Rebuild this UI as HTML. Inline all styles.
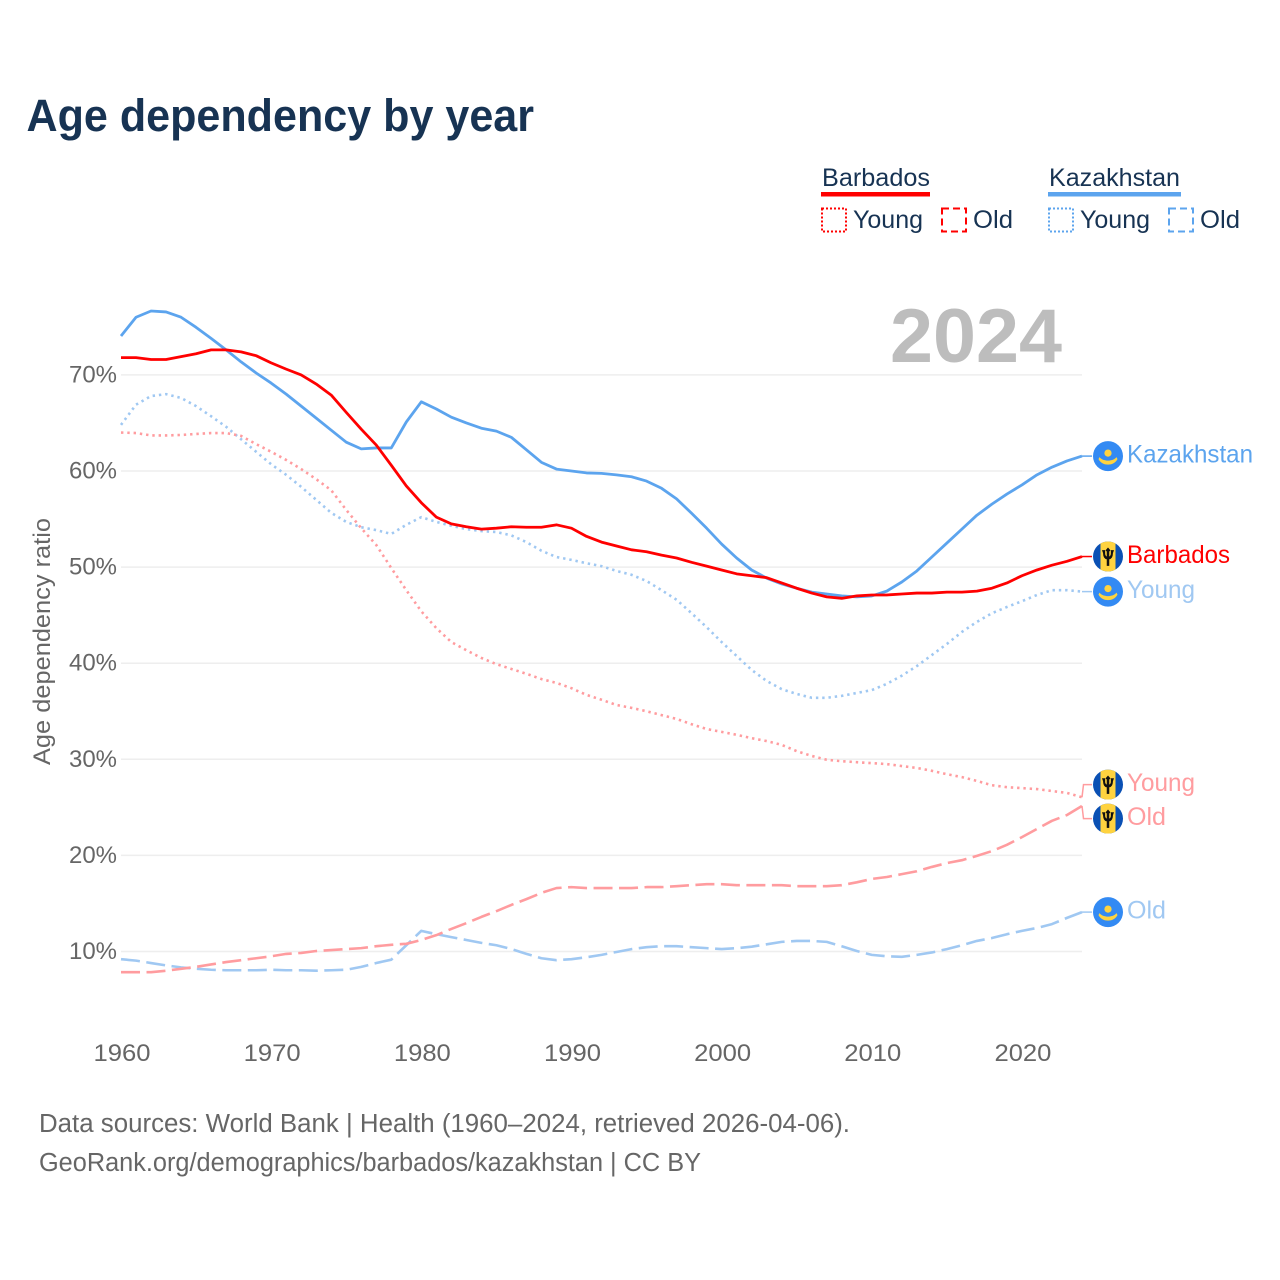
<!DOCTYPE html>
<html lang="en">
<head>
<meta charset="utf-8">
<title>Age dependency by year</title>
<style>
html,body{margin:0;padding:0;background:#fff;width:1280px;height:1280px;overflow:hidden}
svg{display:block}
text{font-family:"Liberation Sans",sans-serif}
</style>
</head>
<body>
<svg id="chart" width="1280" height="1280" viewBox="0 0 1280 1280" xmlns="http://www.w3.org/2000/svg">
  <defs>
    <clipPath id="flag-clip"><circle cx="0" cy="0" r="15"/></clipPath>
    <g id="flag-bb">
      <g clip-path="url(#flag-clip)">
        <rect x="-15" y="-15" width="30" height="30" fill="#0a50b4"/>
        <rect x="-7.500" y="-15" width="15" height="30" fill="#ffd33f"/>
        <path d="M-0.9 9V2.5C-3.5 2.2-4.6 0-4.6-3.5L-5.5-6H-3.2L-3.2-3C-3.2-1-2.6 0-.9.4V-5.2L-2-6.2 0-8.5 2-6.2.9-5.2V.4C2.6 0 3.2-1 3.2-3L3.2-6H5.5L4.6-3.5C4.6 0 3.5 2.2.9 2.5V9Z" fill="#111" stroke="#111" stroke-width="0.7"/>
      </g>
    </g>
    <g id="flag-kz">
      <circle cx="0" cy="0" r="15" fill="#338af3"/>
      <circle cx="0" cy="-3" r="3.600" fill="#ffd33f"/>
      <path d="M-8.500 1C-6.500 3.500-3 4.500 0 4.500S6.500 3.500 8.500 1L9.500 3C7.500 7 3.500 8.500 0 8.500S-7.500 7-9.500 3Z" fill="#ffd33f"/>
    </g>
  </defs>

  <text x="26.500" y="131" font-size="45" font-weight="700" fill="#173353" textLength="507.500" lengthAdjust="spacingAndGlyphs">Age dependency by year</text>

  <g>
    <g>
      <text x="822" y="186" font-size="25" fill="#173353" textLength="108" lengthAdjust="spacingAndGlyphs">Barbados</text>
      <rect x="821" y="192" width="109" height="4.500" fill="#ff0000"/>
      <rect x="822" y="208.500" width="24" height="23" fill="none" stroke="#ff0000" stroke-width="2" stroke-dasharray="2 2"/>
      <text x="853" y="228" font-size="25" fill="#173353" textLength="70" lengthAdjust="spacingAndGlyphs">Young</text>
      <rect x="942" y="208.500" width="24" height="23" fill="none" stroke="#ff0000" stroke-width="2" stroke-dasharray="7 4"/>
      <text x="973" y="228" font-size="25" fill="#173353" textLength="40" lengthAdjust="spacingAndGlyphs">Old</text>
    </g>
    <g>
      <text x="1049" y="186" font-size="25" fill="#173353" textLength="131" lengthAdjust="spacingAndGlyphs">Kazakhstan</text>
      <rect x="1048" y="192" width="133" height="4.500" fill="#5ca4ee"/>
      <rect x="1049" y="208.500" width="24" height="23" fill="none" stroke="#5ca4ee" stroke-width="2" stroke-dasharray="2 2"/>
      <text x="1080" y="228" font-size="25" fill="#173353" textLength="70" lengthAdjust="spacingAndGlyphs">Young</text>
      <rect x="1169" y="208.500" width="24" height="23" fill="none" stroke="#5ca4ee" stroke-width="2" stroke-dasharray="7 4"/>
      <text x="1200" y="228" font-size="25" fill="#173353" textLength="40" lengthAdjust="spacingAndGlyphs">Old</text>
    </g>
  </g>

  <g id="grid"></g>
  <g id="y-axis"></g>
  <g id="x-axis"></g>

  <text x="976" y="362" font-size="76" font-weight="700" fill="#bdbdbd" text-anchor="middle" textLength="172" lengthAdjust="spacingAndGlyphs">2024</text>

  <text transform="translate(50,765) rotate(-90)" font-size="24" fill="#666666" textLength="247" lengthAdjust="spacingAndGlyphs">Age dependency ratio</text>

  <g id="series"></g>
  <g id="end-labels"></g>

  <text x="39" y="1132" font-size="25.500" fill="#666666" textLength="811" lengthAdjust="spacingAndGlyphs">Data sources: World Bank | Health (1960–2024, retrieved 2026-04-06).</text>
  <text x="39" y="1171" font-size="25.500" fill="#666666" textLength="662" lengthAdjust="spacingAndGlyphs">GeoRank.org/demographics/barbados/kazakhstan | CC BY</text>
</svg>

<script>
const firstYear = 1960;
const yTicks = [10, 20, 30, 40, 50, 60, 70];
const xTicks = [1960, 1970, 1980, 1990, 2000, 2010, 2020];

const kazakhstanTotal = [74.05,76.0,76.65,76.55,76.0,74.95,73.8,72.6,71.35,70.2,69.15,68.0,66.75,65.5,64.25,63.0,62.3,62.4,62.4,65.1,67.2,66.45,65.6,65.0,64.45,64.15,63.5,62.2,60.9,60.2,60.0,59.8,59.75,59.6,59.4,58.95,58.2,57.1,55.6,54.05,52.4,50.95,49.7,48.85,48.25,47.8,47.4,47.2,47.0,46.9,47.0,47.5,48.45,49.6,51.05,52.5,53.95,55.4,56.55,57.6,58.55,59.6,60.4,61.05,61.55];
const barbadosTotal = [71.8,71.8,71.6,71.6,71.9,72.2,72.6,72.6,72.4,72.0,71.25,70.6,70.0,69.05,67.9,66.1,64.35,62.7,60.6,58.45,56.7,55.2,54.5,54.2,53.95,54.05,54.2,54.15,54.15,54.4,54.05,53.2,52.6,52.2,51.8,51.6,51.25,50.95,50.5,50.1,49.7,49.3,49.1,48.9,48.35,47.8,47.3,46.9,46.75,47.0,47.1,47.1,47.2,47.3,47.3,47.4,47.4,47.5,47.8,48.35,49.1,49.7,50.2,50.6,51.1];
const kazakhstanYoung = [64.8,66.9,67.8,68.0,67.6,66.75,65.7,64.6,63.3,62.0,60.7,59.6,58.35,57.0,55.65,54.7,54.15,53.85,53.45,54.4,55.2,54.7,54.3,53.95,53.75,53.65,53.3,52.6,51.7,51.05,50.75,50.4,50.1,49.6,49.2,48.55,47.6,46.6,45.2,43.75,42.2,40.75,39.3,38.15,37.3,36.8,36.4,36.4,36.6,36.9,37.2,37.85,38.7,39.7,40.85,42.0,43.25,44.3,45.2,45.85,46.45,47.1,47.6,47.6,47.45];
const barbadosYoung = [64.0,63.95,63.7,63.7,63.75,63.85,63.95,63.95,63.65,62.8,62.0,61.15,60.2,59.15,58.0,55.95,54.05,52.3,49.9,47.6,45.4,43.65,42.2,41.35,40.55,39.9,39.4,38.9,38.35,37.95,37.4,36.7,36.2,35.65,35.35,35.0,34.6,34.2,33.65,33.15,32.85,32.55,32.2,31.9,31.5,30.85,30.35,29.95,29.8,29.7,29.6,29.5,29.3,29.1,28.8,28.45,28.15,27.75,27.3,27.1,27.0,26.9,26.7,26.5,26.05];
const barbadosOld = [7.85,7.85,7.85,8.0,8.2,8.4,8.65,8.9,9.1,9.3,9.5,9.75,9.85,10.05,10.15,10.25,10.35,10.55,10.7,10.8,11.2,11.7,12.35,12.95,13.6,14.2,14.85,15.45,16.1,16.6,16.7,16.6,16.6,16.6,16.6,16.7,16.7,16.8,16.9,17.0,17.0,16.9,16.9,16.9,16.9,16.8,16.8,16.8,16.9,17.2,17.55,17.75,18.05,18.35,18.8,19.2,19.5,19.95,20.45,21.1,21.9,22.75,23.6,24.2,25.15];
const kazakhstanOld = [9.2,9.05,8.8,8.55,8.35,8.2,8.1,8.05,8.05,8.05,8.1,8.05,8.05,8.0,8.05,8.1,8.4,8.8,9.15,10.65,12.15,11.8,11.5,11.2,10.9,10.65,10.25,9.75,9.3,9.1,9.2,9.4,9.65,9.95,10.25,10.45,10.55,10.55,10.45,10.35,10.25,10.35,10.5,10.75,11.0,11.1,11.1,11.0,10.55,10.05,9.65,9.5,9.45,9.65,9.9,10.25,10.65,11.1,11.4,11.8,12.15,12.45,12.85,13.5,14.1];

const SVGNS = 'http://www.w3.org/2000/svg';
const plotLeft = 121, plotRight = 1082;
const xScale = yr => plotLeft + (yr - firstYear) * (plotRight - plotLeft) / 64;
const yScale = v => 951.5 - (v - 10) * 9.61;

function mk(tag, attrs, parent, txt) {
  const el = document.createElementNS(SVGNS, tag);
  for (const k in attrs) el.setAttribute(k, attrs[k]);
  if (txt !== undefined) el.textContent = txt;
  parent.appendChild(el);
  return el;
}

const gridG = document.getElementById('grid');
const yG = document.getElementById('y-axis');
const xG = document.getElementById('x-axis');

yTicks.forEach(t => {
  const line = mk('line', {x1: plotLeft, x2: plotRight, y1: yScale(t), y2: yScale(t), stroke: '#eeeeee', 'stroke-width': 1.5}, gridG);
  
  
  const label = mk('text', {x: 117, y: yScale(t) + 7.500, 'font-size': 24, fill: '#666666', 'text-anchor': 'end', textLength: 48, lengthAdjust: 'spacingAndGlyphs'}, yG, t + '%');
  
  
});

xTicks.forEach(t => {
  const label = mk('text', {x: xScale(t) + 1, y: 1061, 'font-size': 24, fill: '#666666', 'text-anchor': 'middle', textLength: 57, lengthAdjust: 'spacingAndGlyphs'}, xG, String(t));
  
  
});

const seriesDefs = [
  {key: 'kazakhstan-old', values: kazakhstanOld, color: '#a0c8f2', width: 2.6, dash: '19 6.500', flag: 'kz', label: 'Old', len: 39},
  {key: 'kazakhstan-young', values: kazakhstanYoung, color: '#a0c8f2', width: 2.6, dash: '2.400 3.900', flag: 'kz', label: 'Young', len: 68},
  {key: 'barbados-old', values: barbadosOld, color: '#ff9c9f', width: 2.6, dash: '19 6.500', flag: 'bb', label: 'Old', len: 39},
  {key: 'barbados-young', values: barbadosYoung, color: '#ff9c9f', width: 2.6, dash: '2.400 3.900', flag: 'bb', label: 'Young', len: 68},
  {key: 'kazakhstan-total', values: kazakhstanTotal, color: '#5ca4ee', width: 2.8, dash: '', flag: 'kz', label: 'Kazakhstan', len: 126},
  {key: 'barbados-total', values: barbadosTotal, color: '#ff0000', width: 2.8, dash: '', flag: 'bb', label: 'Barbados', len: 103}
];

const seriesG = document.getElementById('series');
seriesDefs.forEach(s => {
  const d = s.values.map((v, i) => (i ? 'L' : 'M') + xScale(firstYear + i).toFixed(2) + ' ' + yScale(v).toFixed(2)).join('');
  const path = mk('path', {d: d, fill: 'none', stroke: s.color, 'stroke-width': s.width, 'stroke-linejoin': 'round', 'stroke-dasharray': s.dash}, seriesG);
  
  
  s.endY = yScale(s.values[s.values.length - 1]);
  s.labelY = s.endY;
});

/* push apart end labels that would overlap */
const sorted = seriesDefs.slice().sort((a, b) => a.endY - b.endY);
for (let i = 1; i < sorted.length; i++) {
  const a = sorted[i - 1], b = sorted[i];
  if (b.labelY - a.labelY < 34) {
    const mid = (a.labelY + b.labelY) / 2;
    a.labelY = mid - 17;
    b.labelY = mid + 17;
  }
}

const labelsG = document.getElementById('end-labels');
seriesDefs.forEach(s => {
  const conn = mk('path', {d: 'M' + plotRight + ' ' + s.endY + 'L' + (s.labelY === s.endY ? plotRight : plotRight + 1.500) + ' ' + s.labelY + 'L1092 ' + s.labelY, fill: 'none', stroke: s.color, 'stroke-width': 1.500}, labelsG);
  
  
  const flag = mk('use', {href: '#flag-' + s.flag, x: 1108, y: s.labelY}, labelsG);
  
  
  const text = mk('text', {x: 1127, y: s.labelY + 6.500, 'font-size': 25, fill: s.color, textLength: s.len, lengthAdjust: 'spacingAndGlyphs'}, labelsG, s.label);
  
  
});
</script>
</body>
</html>
